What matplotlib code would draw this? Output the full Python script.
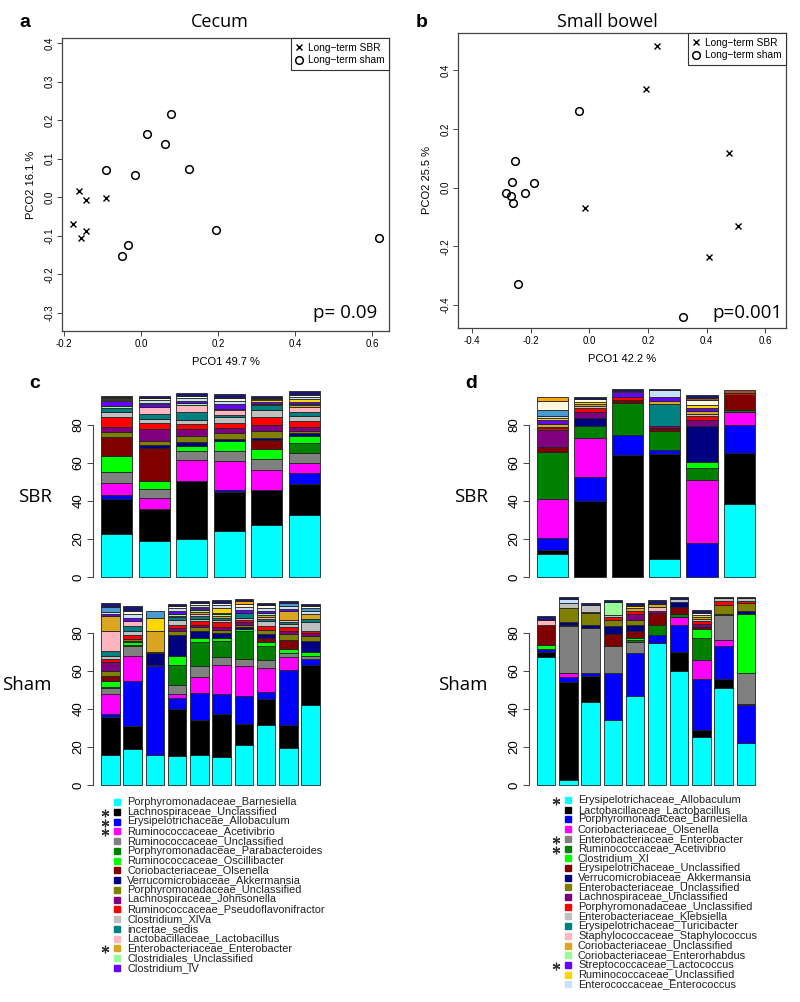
#
# Imports
#
import numpy as np
import matplotlib
matplotlib.use("Agg")
from matplotlib import pyplot as plt

#
# Data
#
# PCoA coordinates
cecum_sbr_x = [-0.161, -0.143, -0.090, -0.176, -0.143, -0.155]
cecum_sbr_y = [0.016, -0.006, -0.003, -0.070, -0.087, -0.106]
cecum_sham_x = [-0.091, -0.015, 0.016, 0.062, 0.077, 0.124, 0.196, -0.034, -0.048, 0.619]
cecum_sham_y = [0.070, 0.057, 0.164, 0.139, 0.217, 0.074, -0.086, -0.123, -0.152, -0.107]

sb_sbr_x = [0.229, 0.193, 0.476, 0.508, 0.409, -0.016]
sb_sbr_y = [0.482, 0.336, 0.120, -0.131, -0.235, -0.071]
sb_sham_x = [-0.036, -0.254, -0.264, -0.190, -0.285, -0.267, -0.219, -0.260, -0.243, 0.319]
sb_sham_y = [0.261, 0.091, 0.019, 0.015, -0.017, -0.027, -0.017, -0.051, -0.329, -0.441]

# stack colours (same order for both regions)
palette = ['#00FFFF', '#000000', '#0000FF', '#FF00FF', '#808080', '#008000',
           '#00FF00', '#800000', '#000080', '#808000', '#800080', '#FF0000',
           '#C0C0C0', '#008080', '#FFB6C1', '#DAA520', '#98FB98', '#6600FF',
           '#FFD700', '#C6E2FF', '#4A9AD0', '#FFF8DC', '#FFA500', '#A0522D',
           '#191970']

cecum_labels = ['Porphyromonadaceae_Barnesiella', 'Lachnospiraceae_Unclassified',
                'Erysipelotrichaceae_Allobaculum', 'Ruminococcaceae_Acetivibrio',
                'Ruminococcaceae_Unclassified', 'Porphyromonadaceae_Parabacteroides',
                'Ruminococcaceae_Oscillibacter', 'Coriobacteriaceae_Olsenella',
                'Verrucomicrobiaceae_Akkermansia', 'Porphyromonadaceae_Unclassified',
                'Lachnospiraceae_Johnsonella', 'Ruminococcaceae_Pseudoflavonifractor',
                'Clostridium_XlVa', 'incertae_sedis', 'Lactobacillaceae_Lactobacillus',
                'Enterobacteriaceae_Enterobacter', 'Clostridiales_Unclassified',
                'Clostridium_IV']
cecum_stars = [1, 2, 3, 15]

sb_labels = ['Erysipelotrichaceae_Allobaculum', 'Lactobacillaceae_Lactobacillus',
             'Porphyromonadaceae_Barnesiella', 'Coriobacteriaceae_Olsenella',
             'Enterobacteriaceae_Enterobacter', 'Ruminococcaceae_Acetivibrio',
             'Clostridium_XI', 'Erysipelotrichaceae_Unclassified',
             'Verrucomicrobiaceae_Akkermansia', 'Enterobacteriaceae_Unclassified',
             'Lachnospiraceae_Unclassified', 'Porphyromonadaceae_Unclassified',
             'Enterobacteriaceae_Klebsiella', 'Erysipelotrichaceae_Turicibacter',
             'Staphylococcaceae_Staphylococcus', 'Coriobacteriaceae_Unclassified',
             'Coriobacteriaceae_Enterorhabdus', 'Streptococcaceae_Lactococcus',
             'Ruminococcaceae_Unclassified', 'Enterococcaceae_Enterococcus']
sb_stars = [0, 4, 5, 17]

# relative abundance (%) per animal, one list per bar, palette order
cecum_sbr = [
    [22.5, 18.3, 2.4, 6.3, 5.7, 0, 8.6, 9.7, 0, 2.8, 2.4, 5.3, 2.8, 2.4, 0, 0, 0.6, 2.8, 0.5, 0.7, 0, 0.5, 0.5, 0, 0.5],
    [19.2, 16.7, 0, 5.7, 4.9, 0, 4.0, 17.4, 1.4, 2.5, 5.9, 3.1, 2.3, 2.6, 4.0, 0, 0, 1.2, 0.5, 1.5, 0, 1.4, 0, 0, 1.0],
    [20.0, 30.3, 0, 11.2, 4.7, 0, 3.0, 0, 1.7, 3.3, 3.5, 3.0, 1.9, 4.3, 3.7, 0, 1.2, 0.6, 0, 1.8, 0, 1.2, 0, 0, 1.6],
    [24.2, 20.8, 0.6, 15.6, 5.0, 0, 5.2, 0, 1.4, 2.8, 2.8, 2.4, 3.5, 1.0, 2.5, 0, 0.5, 2.5, 0.4, 1.5, 0, 1.5, 0, 0, 2.0],
    [27.4, 18.2, 0, 10.5, 5.8, 0, 5.5, 4.7, 1.1, 3.5, 3.3, 4.3, 3.5, 2.5, 0, 0.8, 0, 1.2, 0.6, 0, 0, 0.8, 0.6, 0, 1.0],
    [32.4, 16.6, 5.9, 5.0, 5.3, 5.4, 3.6, 0, 1.4, 1.4, 1.7, 3.2, 2.8, 2.2, 2.6, 1.0, 0.6, 1.2, 1.5, 1.0, 0, 1.0, 0, 0, 1.9],
]
cecum_sham = [
    [15.9, 19.9, 1.8, 10.1, 3.3, 0.5, 3.2, 2.9, 0, 2.3, 5.1, 1.4, 1.7, 2.6, 10.2, 8.2, 0, 0.8, 0, 1.0, 3.0, 0, 0, 0, 1.8],
    [18.7, 12.2, 23.9, 13.1, 5.1, 0.5, 1.6, 0.9, 0, 0.7, 0, 2.3, 1.8, 2.9, 2.8, 0, 0, 1.5, 0, 2.0, 0, 1.8, 0, 0, 2.2],
    [15.9, 0, 46.5, 1.0, 0, 0, 0, 0, 5.9, 0.9, 0, 0, 0, 0, 0, 10.7, 0, 0, 7.0, 0, 3.5, 0, 0, 0, 0],
    [15.2, 24.8, 5.9, 2.1, 4.4, 10.8, 4.7, 0, 11.1, 2.2, 1.4, 1.6, 2.8, 1.2, 0, 0.8, 1.0, 1.5, 0, 1.5, 0, 1.0, 0, 0, 1.5],
    [15.9, 18.2, 14.1, 8.9, 5.3, 13.1, 1.9, 0, 3.8, 1.8, 1.4, 1.7, 1.5, 1.5, 1.0, 1.2, 0.8, 1.0, 0.8, 1.0, 0, 1.0, 0, 0, 1.0],
    [14.8, 22.4, 10.8, 15.1, 4.1, 8.6, 1.4, 0, 3.0, 1.2, 1.9, 2.3, 1.0, 1.5, 0, 1.0, 0.8, 0.5, 2.6, 1.5, 0, 1.5, 0, 0, 1.6],
    [21.3, 10.7, 14.6, 15.9, 3.9, 14.5, 1.0, 0, 1.0, 1.5, 1.2, 1.2, 1.0, 2.5, 0, 0, 0, 2.0, 0, 1.5, 0, 1.5, 1.5, 0, 1.0],
    [31.8, 13.3, 3.8, 12.8, 4.2, 7.5, 2.1, 1.7, 2.1, 2.3, 0, 2.1, 2.4, 1.5, 1.0, 1.0, 1.0, 1.0, 0, 1.5, 0, 1.6, 0, 0, 1.0],
    [19.7, 11.7, 29.2, 7.0, 1.9, 0, 2.3, 4.5, 0, 3.2, 1.8, 1.7, 1.5, 1.5, 1.0, 4.6, 0, 1.0, 0, 1.5, 1.5, 0, 0, 0, 1.3],
    [41.9, 21.5, 3.0, 0, 1.7, 0, 2.1, 0, 5.4, 2.7, 1.6, 1.3, 4.4, 1.8, 0, 2.6, 0, 0, 0, 1.5, 1.5, 1.0, 0, 0, 1.5],
]
sb_sbr = [
    [11.9, 2.3, 6.5, 20.4, 0, 24.7, 0, 2.7, 0, 0, 8.8, 1.3, 0.5, 0, 0, 1.2, 0, 2.5, 1.0, 0.8, 3.5, 4.5, 2.0, 0, 0],
    [0, 39.8, 12.6, 20.9, 0, 6.3, 0, 0, 3.9, 0, 3.2, 2.1, 1.0, 0, 0, 1.2, 0, 0, 1.2, 0, 0, 1.5, 0, 0, 1.3],
    [0, 64.1, 10.9, 0, 0, 16.5, 0, 1.8, 0, 0, 0, 1.5, 0, 0, 0, 0, 0, 2.5, 0.8, 0, 0, 0, 0, 0, 1.0],
    [9.7, 55.3, 1.7, 0, 0, 10.1, 0, 1.5, 0, 0, 1.2, 0, 0, 11.5, 0, 1.4, 0, 2.6, 0, 3.2, 0, 0, 0, 0, 0.9],
    [0, 0, 17.7, 33.6, 0, 6.0, 3.2, 0, 19.1, 0, 3.1, 2.1, 1.0, 0, 0, 1.5, 0, 1.6, 1.5, 0, 0, 2.5, 0, 1.5, 1.5],
    [38.4, 27.1, 14.5, 6.6, 0, 1.2, 0, 8.1, 0, 0, 0, 1.0, 0, 0, 0, 0, 0, 0, 0, 0, 0, 0, 0, 1.5, 0],
]
sb_sham = [
    [67.2, 3.0, 1.4, 0, 0, 0, 2.2, 10.3, 0, 0, 0, 0, 0, 0, 3.0, 0, 0, 0, 0, 0, 0, 0, 0, 0, 1.6],
    [2.7, 51.5, 2.7, 2.3, 24.4, 0.5, 0, 0, 1.6, 7.3, 0, 0, 3.0, 0, 0, 0, 0, 0, 0, 2.1, 0, 0, 0, 0, 0.6],
    [43.6, 13.8, 1.3, 0, 24.0, 0, 0, 0, 1.7, 6.3, 0.6, 0, 3.3, 0, 0, 0, 0, 0, 0, 0, 0, 0, 0, 0, 1.4],
    [34.3, 0, 24.7, 0, 14.4, 0, 0, 6.2, 4.0, 3.5, 0, 1.5, 1.0, 0, 0, 0, 6.6, 0, 0, 0, 0, 0, 0, 0, 1.0],
    [46.8, 0, 22.5, 0, 5.9, 1.0, 1.1, 3.6, 3.5, 2.5, 2.9, 2.0, 0, 0, 0, 1.2, 0, 0, 1.0, 0, 0, 0, 0, 0, 2.0],
    [74.7, 0, 4.4, 0, 0, 5.3, 0, 6.3, 0, 0, 1.0, 0, 0, 0, 2.0, 1.5, 0, 0, 0, 0, 0, 0, 0, 0, 2.0],
    [59.9, 10.0, 14.5, 4.1, 0, 1.3, 0, 3.9, 2.8, 0, 0, 0, 1.2, 0, 0, 0, 0, 0, 0, 0, 0, 0, 0, 0, 1.0],
    [25.4, 3.6, 27.0, 9.8, 0, 11.5, 4.6, 1.0, 0, 0, 1.9, 1.5, 1.0, 0, 0, 1.3, 0, 0, 1.0, 0, 0, 1.0, 0, 0, 1.3],
    [51.0, 4.6, 17.8, 3.0, 13.0, 0.8, 0, 0, 0, 4.6, 0, 2.1, 1.3, 0, 0, 0, 0, 0, 0, 0, 0, 0, 0, 0, 1.0],
    [21.9, 0, 20.4, 0.5, 16.2, 0, 31.1, 0, 1.4, 4.5, 0, 1.0, 1.2, 0, 0, 0, 0, 0, 0, 0, 0, 0, 0, 0, 0.9],
]

W, H = 800, 1002
TITLE_FONT = ['Open Sans', 'DejaVu Sans']


#
# Private functions
#
def px(x0, y0, w, h):
    # pixel box (top-left origin) -> figure fraction
    return [x0 / W, 1 - (y0 + h) / H, w / W, h / H]


def pcoa_panel(ax, sx, sy, hx, hy, xlab, ylab, xlim, ylim, xt, yt, ptext):
    ax.plot(sx, sy, ls='none', marker='x', color='k', ms=5, mew=1.0,
            label='Long\u2212term SBR')
    ax.plot(hx, hy, ls='none', marker='o', mfc='none', mec='k', ms=5.5,
            mew=1.1, label='Long\u2212term sham')
    ax.set_xlim(xlim)
    ax.set_ylim(ylim)
    ax.set_xticks(xt)
    ax.set_yticks(yt)
    ax.set_xticklabels(['%.1f' % v for v in xt])
    ax.set_yticklabels(['%.1f' % v for v in yt], rotation=90, va='center')
    ax.tick_params(labelsize=7, length=3.5, width=0.7, color='#444', pad=2)
    for s in ax.spines.values():
        s.set_color('#444')
        s.set_linewidth(0.9)
    ax.set_xlabel(xlab, fontsize=8, labelpad=6)
    ax.set_ylabel(ylab, fontsize=8, labelpad=6)
    leg = ax.legend(loc='upper right', borderaxespad=0, fancybox=False,
                    edgecolor='#333', fontsize=7.3, handlelength=0.7,
                    handletextpad=0.5, borderpad=0.45, labelspacing=0.25,
                    framealpha=1)
    leg.get_frame().set_linewidth(0.8)
    ax.text(ptext[0], ptext[1], ptext[2], transform=ax.transAxes,
            fontsize=13.5, family=TITLE_FONT, va='center', ha='left')


def stacked(ax, bars):
    data = np.array(bars).T
    n = data.shape[1]
    x = np.arange(n) * 1.2 + 0.7
    bottom = np.zeros(n)
    for row, col in zip(data, palette):
        m = row > 0
        ax.bar(x[m], row[m], width=1.0, bottom=bottom[m], color=col,
               edgecolor='#222', linewidth=0.6, clip_on=False)
        bottom += row
    ax.set_xlim(0.2, 1.2 * n)
    ax.set_ylim(0, 100)
    for k in ['top', 'right', 'bottom']:
        ax.spines[k].set_visible(False)
    ax.spines['left'].set_position(('outward', 6))
    ax.spines['left'].set_bounds(0, 80)
    ax.spines['left'].set_color('#444')
    ax.set_xticks([])
    ax.set_yticks([0, 20, 40, 60, 80])
    ax.set_yticklabels(['0', '20', '40', '60', '80'], rotation=90, va='center')
    ax.tick_params(axis='y', labelsize=9.5, length=4, width=0.7, color='#444', pad=2)


def legend_block(lax, labels, stars, x_mark, y0, dy):
    for i, lab in enumerate(labels):
        y = y0 + i * dy
        lax.plot(x_mark, y, marker='s', ms=3.8, color=palette[i], ls='none')
        lax.text(x_mark + 10, y, lab, fontsize=7.9, va='center', ha='left', color='#222')
    # significance asterisks
    sy = [y0 + i * dy + 1 for i in stars]
    lax.plot([x_mark - 12] * len(sy), sy, ls='none', marker=(6, 2, 0),
             ms=5.5, mew=0.9, color='#333')


#
# main
#
if __name__ == "__main__":
    plt.rcParams['font.family'] = ['Liberation Sans', 'DejaVu Sans']
    fig = plt.figure(figsize=(W / 100, H / 100), dpi=100)

    # a / b : PCoA
    ax_a = fig.add_axes(px(62, 38, 327, 293))
    pcoa_panel(ax_a, cecum_sbr_x, cecum_sbr_y, cecum_sham_x, cecum_sham_y,
               'PCO1 49.7 %', 'PCO2 16.1 %', (-0.205, 0.644), (-0.347, 0.413),
               [-0.2, 0.0, 0.2, 0.4, 0.6], [-0.3, -0.2, -0.1, 0.0, 0.1, 0.2, 0.3, 0.4],
               (0.768, 0.061, 'p= 0.09'))
    ax_b = fig.add_axes(px(458, 33, 328, 295))
    pcoa_panel(ax_b, sb_sbr_x, sb_sbr_y, sb_sham_x, sb_sham_y,
               'PCO1 42.2 %', 'PCO2 25.5 %', (-0.448, 0.67), (-0.479, 0.528),
               [-0.4, -0.2, 0.0, 0.2, 0.4, 0.6], [-0.4, -0.2, 0.0, 0.2, 0.4],
               (0.777, 0.051, 'p=0.001'))

    # c / d : stacked bars
    stacked(fig.add_axes(px(101, 387, 219, 190)), cecum_sbr)
    stacked(fig.add_axes(px(101, 595, 219, 190)), cecum_sham)
    stacked(fig.add_axes(px(537, 387, 218, 190)), sb_sbr)
    stacked(fig.add_axes(px(537, 595, 218, 190)), sb_sham)

    # overlay for labels and legends, in pixels
    lax = fig.add_axes([0, 0, 1, 1], zorder=-1)
    lax.set_xlim(0, W)
    lax.set_ylim(H, 0)
    lax.axis('off')
    lax.text(220, 22, 'Cecum', fontsize=13, family=TITLE_FONT, ha='center', va='center')
    lax.text(607, 22, 'Small bowel', fontsize=13, family=TITLE_FONT, ha='center', va='center')
    for lab, x, y in [('a', 25, 22), ('b', 422, 22), ('c', 35, 383), ('d', 471, 383)]:
        lax.text(x, y, lab, fontsize=14, fontweight='bold', ha='center', va='center')
    for x in (52, 488):
        lax.text(x, 497, 'SBR', fontsize=13.5, family=TITLE_FONT, ha='right', va='center')
        lax.text(x, 685, 'Sham', fontsize=13.5, family=TITLE_FONT, ha='right', va='center')

    legend_block(lax, cecum_labels, cecum_stars, 117, 802, 9.75)
    legend_block(lax, sb_labels, sb_stars, 568, 800, 9.7)

    fig.savefig('out.png', dpi=100)
